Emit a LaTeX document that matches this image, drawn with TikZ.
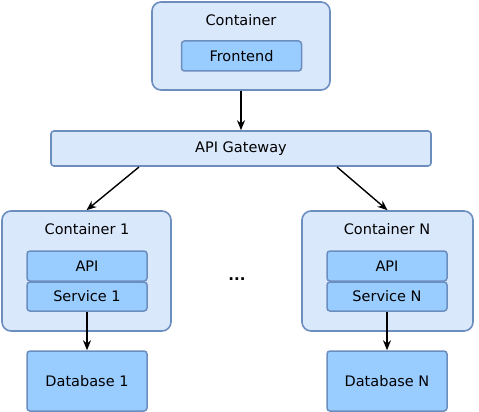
\documentclass[tikz,border=0pt]{standalone}
\usepackage{fontspec}
\setmainfont{DejaVu Sans}
\usetikzlibrary{arrows.meta,positioning}
\definecolor{boxfill}{RGB}{218,232,252}
\definecolor{boxline}{RGB}{108,142,191}
\definecolor{partfill}{RGB}{153,204,255}

\begin{document}
\begin{tikzpicture}[x=1pt, y=-1pt,
  outerbox/.style={rounded corners=9pt, draw=boxline, fill=boxfill,
               line width=1.6pt, inner sep=0pt},
  partbox/.style={rounded corners=3pt, draw=boxline, fill=partfill,
               line width=1.5pt, minimum width=120pt, minimum height=30pt,
               font=\fontsize{14.5}{16}\selectfont},
  lbl/.style={font=\fontsize{14.5}{16}\selectfont},
  arr/.style={-{Stealth[length=10pt,width=8pt]}, line width=1.4pt, black}]
\useasboundingbox (0,0) rectangle (479,412);
% top container with the frontend
\node[outerbox, minimum width=178pt, minimum height=88pt] (top) at (241,46) {};
\node[lbl] (toplbl) at (241,20) {Container};
\node[partbox] (fe) at (241.5,56) {Frontend};
% gateway
\node[outerbox, rounded corners=3pt, minimum width=380pt, minimum height=35pt,
      lbl] (gw) at (241,148.5) {API Gateway};
% containers below
\node[outerbox, minimum width=169pt, minimum height=120pt] (c1) at (86.5,271) {};
\node[lbl] (c1lbl) at (87,229) {Container 1};
\node[partbox] (api1) at (87,266) {API};
\node[partbox, minimum height=29pt] (svc1) at (87,296.5) {Service 1};
\node[partbox, minimum height=60pt] (db1) at (87,381) {Database 1};
\node[outerbox, minimum width=171pt, minimum height=120pt] (cN) at (387.5,271) {};
\node[lbl] (cNlbl) at (387,229) {Container N};
\node[partbox] (apiN) at (387,266) {API};
\node[partbox, minimum height=29pt] (svcN) at (387,296.5) {Service N};
\node[partbox, minimum height=60pt] (dbN) at (387,381) {Database N};
\node[font=\bfseries\fontsize{15}{16}\selectfont] (dots) at (237,279) {...};
% connectors
\coordinate (gwl) at (139,167);
\coordinate (gwr) at (337,167);
\draw[arr] (top) -- (gw);
\draw[arr] (gwl) -- (c1.north);
\draw[arr] (gwr) -- (cN.north);
\draw[arr] (svc1) -- (db1);
\draw[arr] (svcN) -- (dbN);
\end{tikzpicture}
\end{document}
